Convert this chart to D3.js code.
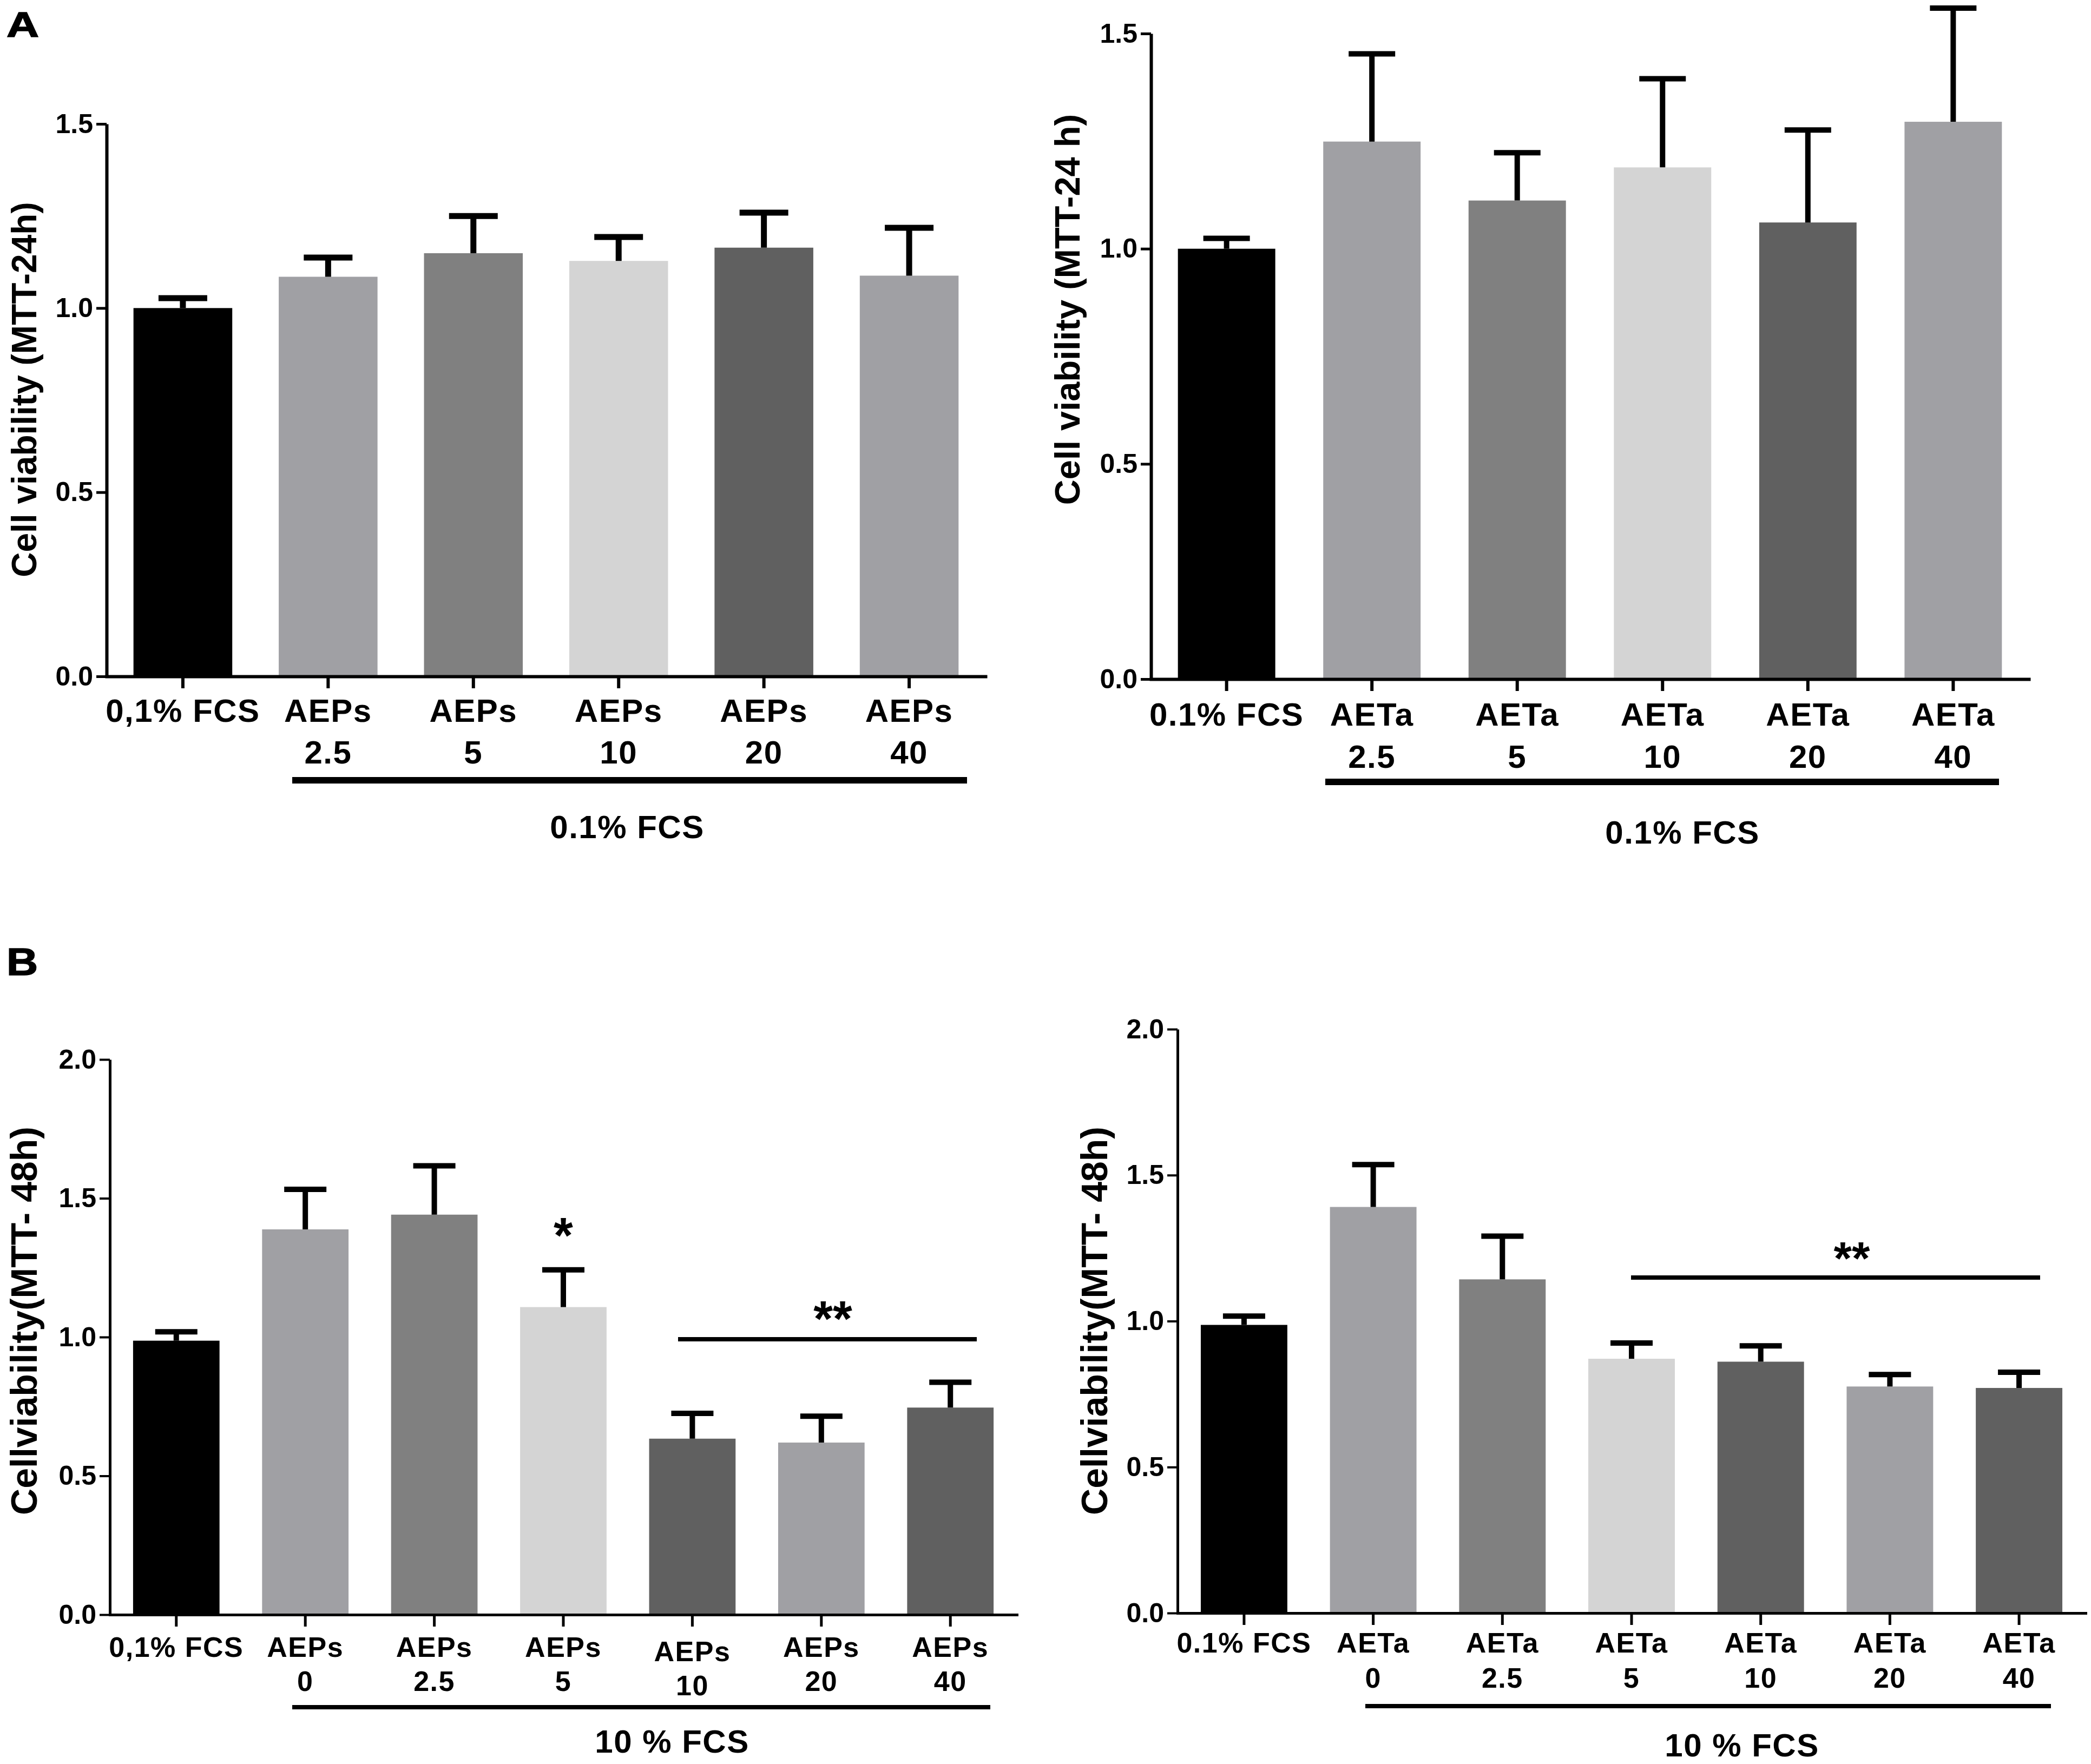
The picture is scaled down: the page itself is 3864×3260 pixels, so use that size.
<!DOCTYPE html>
<html><head><meta charset="utf-8">
<script src="https://cdn.jsdelivr.net/npm/d3@7"></script>
<style>body{margin:0;background:#fff} text{font-family:"Liberation Sans",Arial,Helvetica,sans-serif;font-weight:bold;fill:#000}</style>
</head><body><svg id="c" width="3864" height="3260" xmlns="http://www.w3.org/2000/svg"></svg>
<script>
// ---------- data ----------
const labelsA1 = [["0,1% FCS"],["AEPs","2.5"],["AEPs","5"],["AEPs","10"],["AEPs","20"],["AEPs","40"]];
const meansA1 = [1.00,1.085,1.149,1.128,1.164,1.088];
const sdA1    = [0.027,0.052,0.101,0.065,0.095,0.130];

const labelsA2 = [["0.1% FCS"],["AETa","2.5"],["AETa","5"],["AETa","10"],["AETa","20"],["AETa","40"]];
const meansA2 = [1.00,1.249,1.112,1.189,1.061,1.295];
const sdA2    = [0.024,0.204,0.111,0.206,0.215,0.264];

const labelsB1 = [["0,1% FCS"],["AEPs","0"],["AEPs","2.5"],["AEPs","5"],["AEPs","10"],["AEPs","20"],["AEPs","40"]];
const meansB1 = [0.987,1.388,1.441,1.108,0.634,0.620,0.746];
const sdB1    = [0.032,0.144,0.176,0.134,0.091,0.095,0.091];

const labelsB2 = [["0.1% FCS"],["AETa","0"],["AETa","2.5"],["AETa","5"],["AETa","10"],["AETa","20"],["AETa","40"]];
const meansB2 = [0.987,1.391,1.143,0.871,0.861,0.776,0.771];
const sdB2    = [0.030,0.145,0.148,0.054,0.054,0.041,0.054];

const colorsA = ["#000000","#a0a0a4","#808080","#d4d4d4","#606060","#a0a0a4"];
const colorsB = ["#000000","#a0a0a4","#808080","#d4d4d4","#606060","#a0a0a4","#606060"];
const ticksA = [0,0.5,1.0,1.5];
const ticksB = [0,0.5,1.0,1.5,2.0];
const titles = ["Cell viability (MTT-24h)","Cell viability (MTT-24 h)","Cellviability(MTT- 48h)","Cellviability(MTT- 48h)"];
const groupLabels = ["0.1% FCS","0.1% FCS","10 % FCS","10 % FCS"];
const panelLetters = ["A","B"];
// significance marks: text, and which categories the line spans (null = single)
const sigB1 = [{text:"*", from:3, to:null},{text:"**", from:4, to:6}];
const sigB2 = [{text:"**", from:3, to:6}];

// ---------- layout (positions/styles) ----------
const panels = [
  {labels:labelsA1, means:meansA1, sd:sdA1, colors:colorsA, ticks:ticksA, ymax:1.5, title:titles[0], group:groupLabels[0], sig:[],
   x0:197, x1:1821, yTop:229, yBot:1250, pi:0.32, po:0.185,
   titleX:45, titleY:720, titleSize:64, labSize:60, l1:1334, l2:1411, brY:1442, brX:[540,1787], brW:12,
   grpX:1159, grpY:1549, grpSize:60, axisW:6, errW:11, capW:90, tickFont:50, lblDy:[]},
  {labels:labelsA2, means:meansA2, sd:sdA2, colors:colorsA, ticks:ticksA, ymax:1.5, title:titles[1], group:groupLabels[1], sig:[],
   x0:2127, x1:3749, yTop:62, yBot:1255, pi:0.33, po:0.185,
   titleX:1972, titleY:572, titleSize:65, labSize:60, l1:1341, l2:1419, brY:1445, brX:[2449,3694], brW:12,
   grpX:3109, grpY:1559, grpSize:60, axisW:6, errW:10, capW:86, tickFont:50, lblDy:[]},
  {labels:labelsB1, means:meansB1, sd:sdB1, colors:colorsB, ticks:ticksB, ymax:2.0, title:titles[2], group:groupLabels[2], sig:sigB1,
   x0:203, x1:1879, yTop:1958, yBot:2984, pi:0.33, po:0.18,
   titleX:44, titleY:2441, titleSize:68, labSize:52, l1:3062, l2:3125, brY:3155, brX:[540,1830], brW:8,
   grpX:1242, grpY:3239, grpSize:60, axisW:5, errW:10, capW:78, tickFont:50,
   sigLineY:2475, sigLineX:[1253,1805], sigSize:92, lblDy:[0,0,0,0,8,0,0]},
  {labels:labelsB2, means:meansB2, sd:sdB2, colors:colorsB, ticks:ticksB, ymax:2.0, title:titles[3], group:groupLabels[3], sig:sigB2,
   x0:2176, x1:3854, yTop:1902, yBot:2981, pi:0.33, po:0.18,
   titleX:2022, titleY:2441, titleSize:68, labSize:52, l1:3054, l2:3119, brY:3153, brX:[2523,3790], brW:8,
   grpX:3219, grpY:3246, grpSize:60, axisW:5, errW:10, capW:78, tickFont:50,
   sigLineY:2361, sigLineX:[3014,3770], sigSize:86, lblDy:[]}
];

const svg = d3.select("#c");
svg.append("rect").attr("width",3864).attr("height",3260).attr("fill","#fff");

// panel letters (wide, heavy glyphs in the reference)
svg.append("text").attr("transform","translate(12,68) scale(1.3,1)").attr("font-size",64)
  .attr("stroke","#000").attr("stroke-width",1.5).text(panelLetters[0]);
svg.append("text").attr("transform","translate(12,1802) scale(1.15,1)").attr("font-size",70)
  .attr("stroke","#000").attr("stroke-width",1.5).text(panelLetters[1]);

panels.forEach(p => {
  const n = p.labels.length;
  const idx = d3.range(n);
  const x = d3.scaleBand().domain(idx).range([p.x0, p.x1]).paddingInner(p.pi).paddingOuter(p.po);
  const y = d3.scaleLinear().domain([0, p.ymax]).range([p.yBot, p.yTop]);
  const g = svg.append("g");

  // bars
  g.selectAll("rect.bar").data(idx).join("rect").attr("class","bar")
    .attr("x", i => x(i)).attr("width", x.bandwidth())
    .attr("y", i => y(p.means[i])).attr("height", i => y(0) - y(p.means[i]))
    .attr("fill", i => p.colors[i]);

  // error bars (upper only)
  const cx = i => x(i) + x.bandwidth()/2;
  g.selectAll("line.ev").data(idx).join("line").attr("class","ev")
    .attr("x1", cx).attr("x2", cx)
    .attr("y1", i => y(p.means[i])).attr("y2", i => y(p.means[i] + p.sd[i]))
    .attr("stroke","#000").attr("stroke-width", p.errW);
  g.selectAll("line.cap").data(idx).join("line").attr("class","cap")
    .attr("x1", i => cx(i) - p.capW/2).attr("x2", i => cx(i) + p.capW/2)
    .attr("y1", i => y(p.means[i] + p.sd[i])).attr("y2", i => y(p.means[i] + p.sd[i]))
    .attr("stroke","#000").attr("stroke-width", p.errW);

  // y axis
  const ya = g.append("g").attr("transform", `translate(${p.x0},0)`)
    .call(d3.axisLeft(y).tickValues(p.ticks).tickFormat(d3.format(".1f")).tickSize(19).tickPadding(6).tickSizeOuter(0));
  ya.select(".domain").attr("stroke","#000").attr("stroke-width",p.axisW);
  ya.selectAll(".tick line").attr("stroke","#000").attr("stroke-width",p.axisW-1);
  ya.selectAll(".tick text").attr("font-size",p.tickFont).attr("font-family",null).attr("fill","#000");

  // x axis
  const xa = g.append("g").attr("transform", `translate(0,${p.yBot})`)
    .call(d3.axisBottom(x).tickSize(22).tickFormat("").tickSizeOuter(0));
  xa.select(".domain").attr("stroke","#000").attr("stroke-width",p.axisW).attr("stroke-linecap","square");
  xa.selectAll(".tick line").attr("stroke","#000").attr("stroke-width",p.axisW);

  // category labels
  idx.forEach(i => {
    const dy = p.lblDy[i] || 0;
    const t = g.append("text").attr("text-anchor","middle").attr("font-size",p.labSize).attr("letter-spacing",1.5);
    t.append("tspan").attr("x",cx(i)).attr("y",p.l1 + dy).text(p.labels[i][0]);
    if (p.labels[i][1]) t.append("tspan").attr("x",cx(i)).attr("y",p.l2 + dy).text(p.labels[i][1]);
  });

  // group bracket + label
  g.append("line").attr("x1",p.brX[0]).attr("x2",p.brX[1]).attr("y1",p.brY).attr("y2",p.brY)
    .attr("stroke","#000").attr("stroke-width",p.brW);
  g.append("text").attr("x",p.grpX).attr("y",p.grpY).attr("text-anchor","middle")
    .attr("font-size",p.grpSize).attr("letter-spacing",1.5).text(p.group);

  // y title
  g.append("text").attr("transform",`translate(${p.titleX},${p.titleY}) rotate(-90)`)
    .attr("text-anchor","middle").attr("dominant-baseline","central")
    .attr("font-size",p.titleSize).text(p.title);

  // significance
  p.sig.forEach(s => {
    if (s.to === null) {
      const top = y(p.means[s.from] + p.sd[s.from]);
      g.append("text").attr("x",cx(s.from)).attr("y",top - 32).attr("text-anchor","middle")
        .attr("font-size",p.sigSize).text(s.text);
    } else {
      g.append("line").attr("x1",p.sigLineX[0]).attr("x2",p.sigLineX[1])
        .attr("y1",p.sigLineY).attr("y2",p.sigLineY).attr("stroke","#000").attr("stroke-width",8);
      g.append("text").attr("x",(p.sigLineX[0]+p.sigLineX[1])/2 + (s.from===4?10:30))
        .attr("y",p.sigLineY - 6).attr("text-anchor","middle")
        .attr("font-size",p.sigSize).text(s.text);
    }
  });
});
</script></body></html>
